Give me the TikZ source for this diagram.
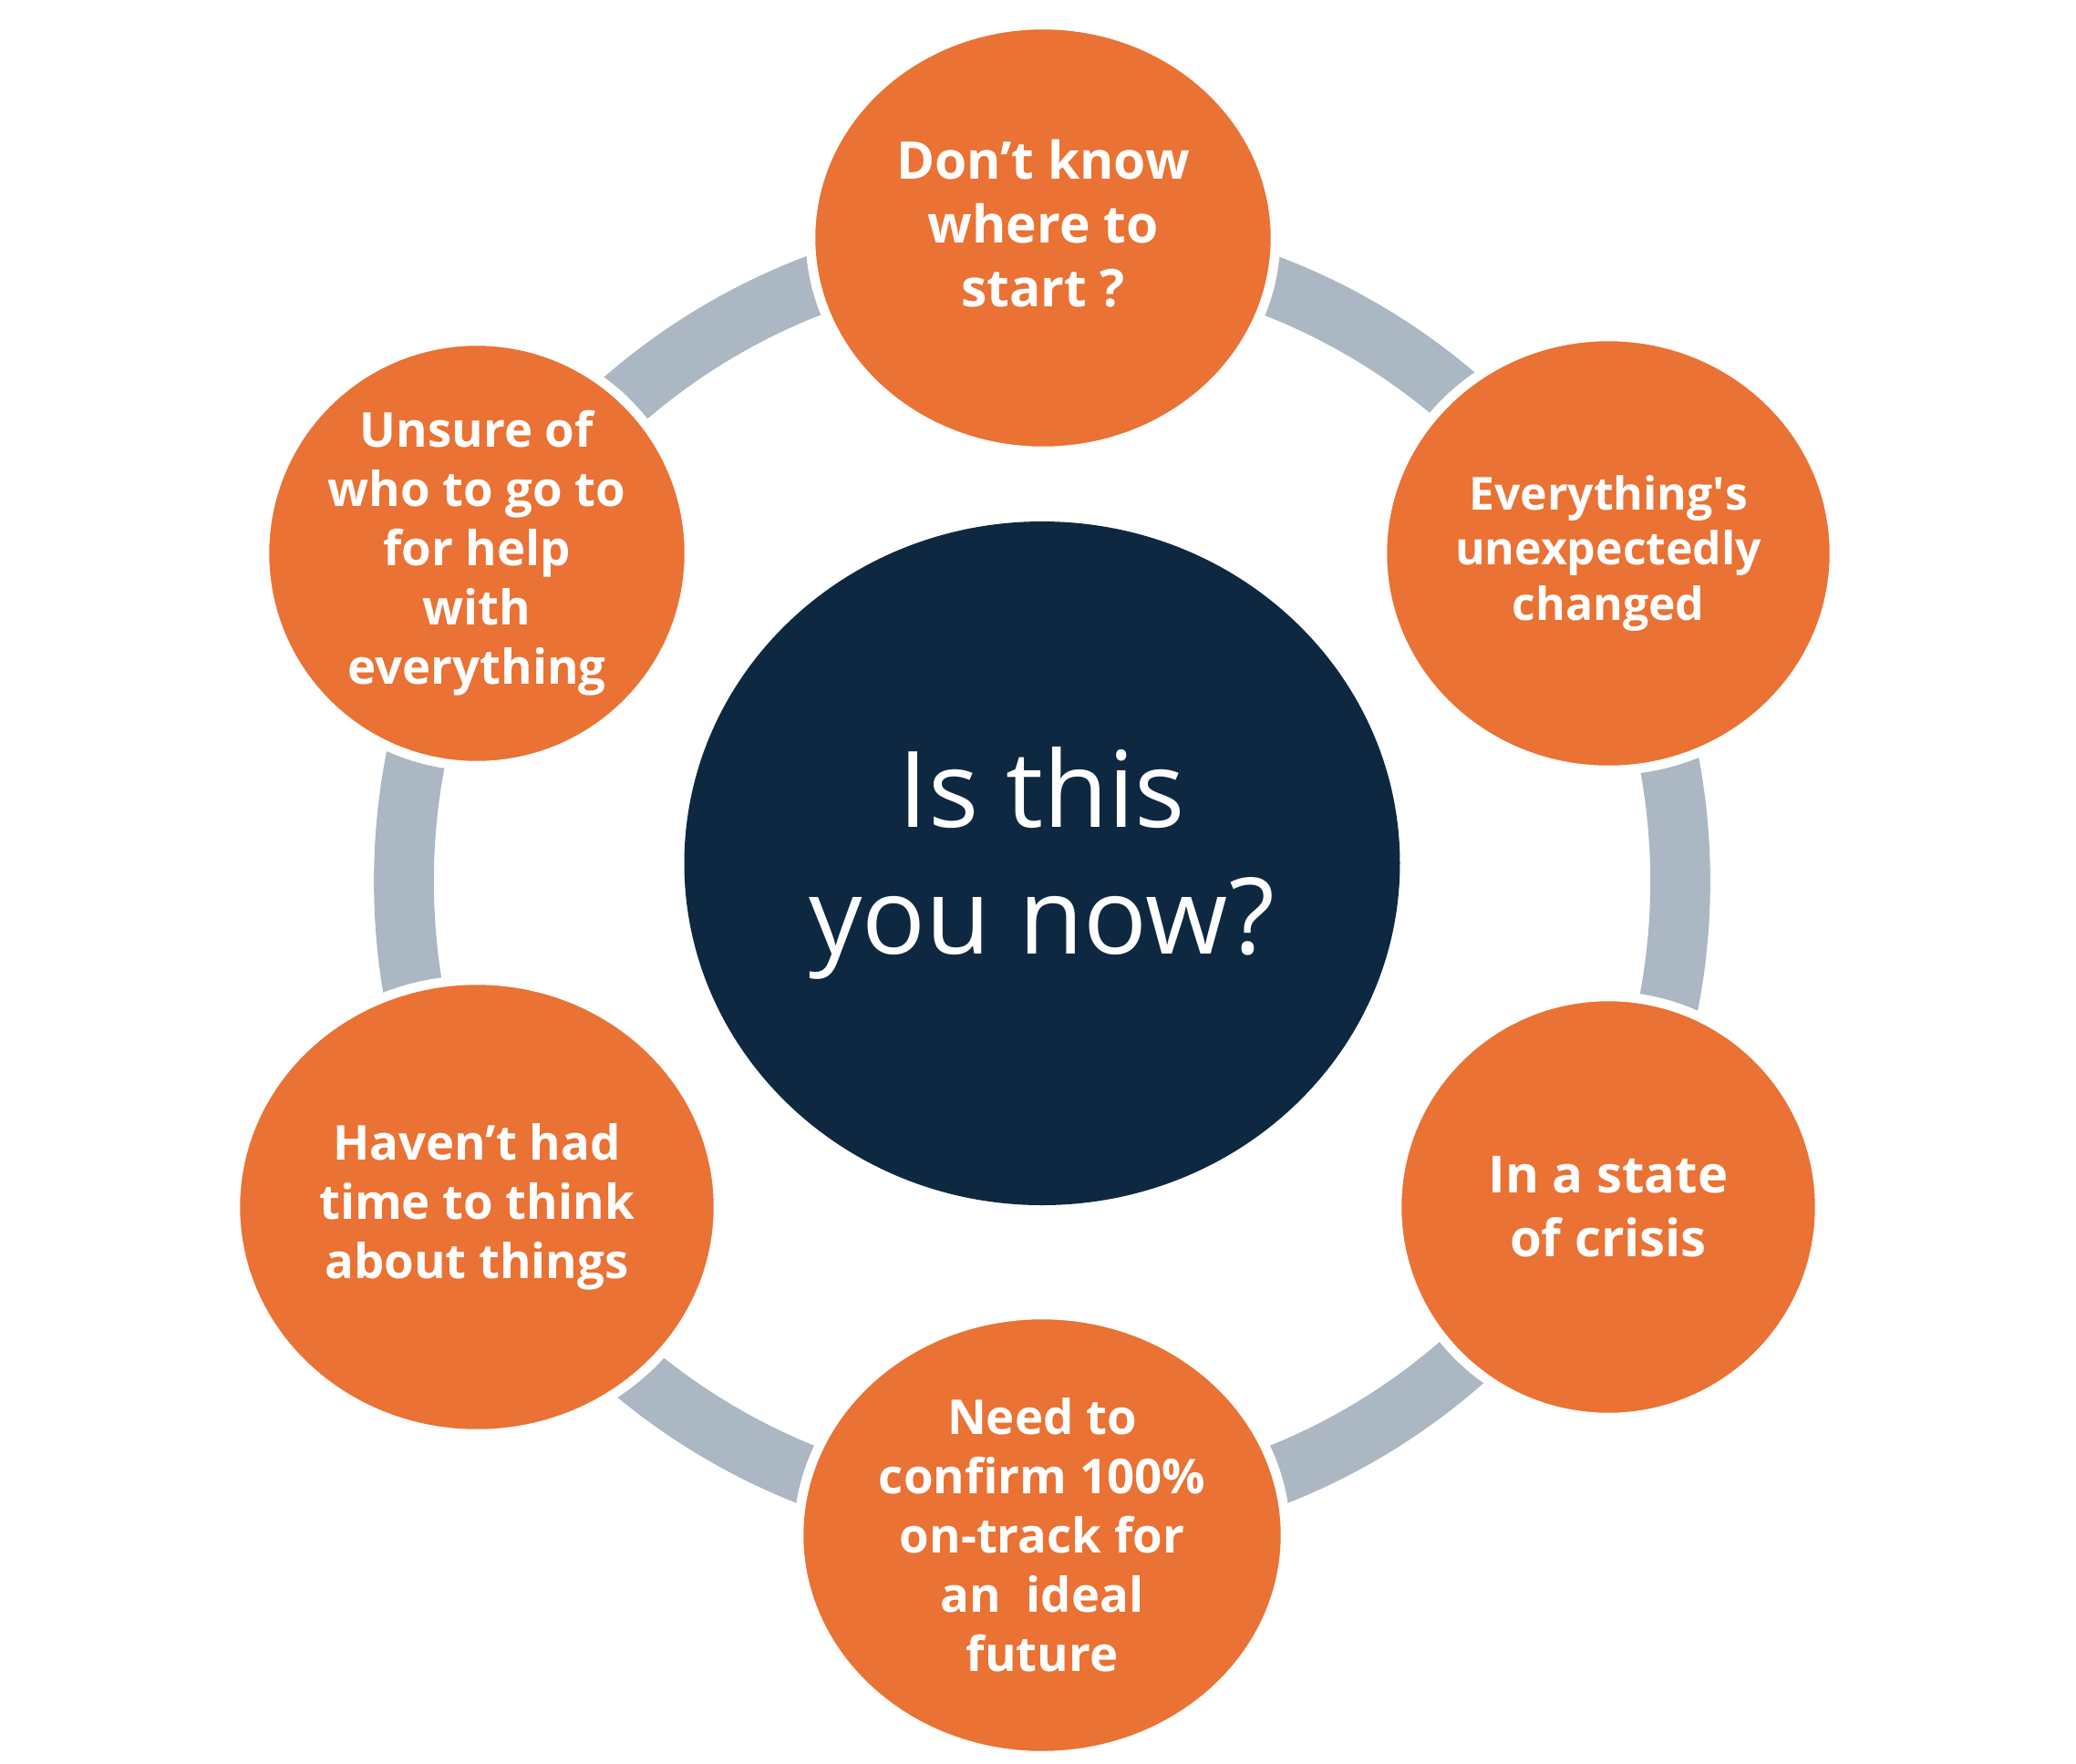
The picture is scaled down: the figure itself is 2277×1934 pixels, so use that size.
\documentclass[tikz,border=0pt]{standalone}
\usepackage{fontspec}
\setmainfont{Open Sans}
\usepackage{xcolor}
\usetikzlibrary{shapes.geometric}

\definecolor{bubbleorange}{RGB}{233,114,52}
\definecolor{hubnavy}{RGB}{15,40,65}
\definecolor{ringgray}{RGB}{171,183,195}
\newcommand{\straightquote}{\XeTeXglyph\XeTeXcharglyph"0027\relax}

\begin{document}
\begin{tikzpicture}[
  x=0.1mm, y=-0.1mm,
  bubble/.style={ellipse, fill=bubbleorange, draw=white, line width=3pt,
    text=white, align=center, inner sep=0pt,
    font=\bfseries\fontsize{15}{18.5}\selectfont},
  hubnode/.style={ellipse, fill=hubnavy, text=white, align=center, inner sep=0pt,
    font=\fontsize{33}{39.5}\selectfont},
  ring/.style={draw=ringgray, line width=18.7pt}
]
\useasboundingbox (0,0) rectangle (2277,1934);

% ── Ring behind the bubbles ──
\draw[ring] (1143,967) circle[radius=7cm];

% ── Centre ──
\node[hubnode, minimum width=7.85cm, minimum height=7.5cm] (hub) at (1143,947)
  {Is this\\you now?};

% ── Bubbles round the ring ──
\node[bubble, minimum width=5.1cm, minimum height=4.68cm, text depth=9pt,
  font=\bfseries\fontsize{16.2}{19.9}\selectfont] (start) at (1144,261)
  {Don’t know\\where to\\start ?};
\node[bubble, minimum width=4.96cm, minimum height=4.76cm,
  font=\bfseries\fontsize{14.2}{17.3}\selectfont] (changed) at (1764,607)
  {Everything\straightquote s\\unexpectedly\\changed};
\node[bubble, minimum width=4.64cm, minimum height=4.62cm,
  font=\bfseries\fontsize{16}{19.9}\selectfont] (crisis) at (1764,1324)
  {In a state\\of crisis};
\node[bubble, minimum width=5.34cm, minimum height=4.84cm] (future) at (1143,1684)
  {Need to\\confirm 100\%\\on-track for\\an\ \ ideal\\future};
\node[bubble, minimum width=5.3cm, minimum height=4.98cm] (think) at (523,1324)
  {Haven’t had\\time to think\\about things};
\node[bubble, minimum width=4.66cm, minimum height=4.66cm] (unsure) at (523,607)
  {Unsure of\\who to go to\\for help\\with\\everything};

\end{tikzpicture}
\end{document}
